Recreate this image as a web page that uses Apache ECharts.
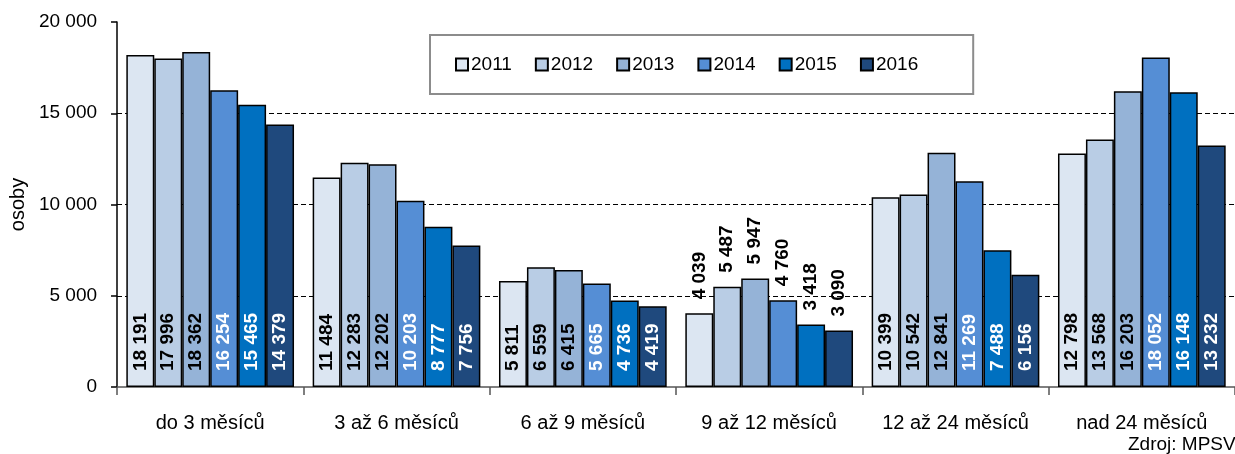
<!DOCTYPE html>
<html>
<head>
<meta charset="utf-8">
<script src="https://cdn.jsdelivr.net/npm/echarts@6/dist/echarts.min.js"></script>
<style>
  html, body { margin: 0; padding: 0; background: #fff; }
  #chart { width: 1235px; height: 454px; }
</style>
</head>
<body>
<div id="chart"></div>
<script>
const categories = ['do 3 měsíců', '3 až 6 měsíců', '6 až 9 měsíců', '9 až 12 měsíců', '12 až 24 měsíců', 'nad 24 měsíců']
const years = ['2011', '2012', '2013', '2014', '2015', '2016']
const colors = ['#dce6f2', '#b9cde5', '#95b3d7', '#558ed5', '#0070c0', '#1f497d']
const labelColors = ['#000', '#000', '#000', '#fff', '#fff', '#fff']

const v2011 = [18191, 11484, 5811, 4039, 10399, 12798]
const v2012 = [17996, 12283, 6559, 5487, 10542, 13568]
const v2013 = [18362, 12202, 6415, 5947, 12841, 16203]
const v2014 = [16254, 10203, 5665, 4760, 11269, 18052]
const v2015 = [15465, 8777, 4736, 3418, 7488, 16148]
const v2016 = [14379, 7756, 4419, 3090, 6156, 13232]
const values = [v2011, v2012, v2013, v2014, v2015, v2016]

// group whose labels sit above the bars
const outsideGroup = 3

const fontFamily = '"Liberation Sans", Arial, sans-serif'

function fmt(v) {
  return String(v).replace(/\B(?=(\d{3})+(?!\d))/g, ' ')
}

const series = years.map((name, s) => ({
  name,
  type: 'bar',
  barGap: '0%',
  barCategoryGap: '10%',
  animation: false,
  itemStyle: { color: colors[s], borderColor: '#000', borderWidth: 1.5 },
  label: {
    show: true,
    position: 'insideBottom',
    rotate: 90,
    align: 'left',
    verticalAlign: 'middle',
    distance: 16,
    color: labelColors[s],
    fontSize: 19,
    fontWeight: 'bold',
    fontFamily,
    formatter: p => fmt(p.value)
  },
  data: values[s].map((v, i) => i === outsideGroup ? {
    value: v,
    label: { position: 'top', distance: 14, color: '#000' }
  } : v)
}))

const chart = echarts.init(document.getElementById('chart'))
chart.setOption({
  backgroundColor: '#fff',
  textStyle: { fontFamily },
  grid: { left: 116, top: 22, width: 1128, bottom: 67 },
  legend: {
    data: years,
    left: 430,
    top: 35,
    itemWidth: 12,
    itemHeight: 12,
    itemGap: 23,
    icon: 'rect',
    padding: [20, 55, 20, 25],
    backgroundColor: '#fff',
    borderColor: '#8c8c8c',
    borderWidth: 2,
    textStyle: { fontSize: 19, color: '#000', fontFamily, padding: [0, 0, 0, -2] }
  },
  xAxis: {
    type: 'category',
    data: categories,
    axisLine: { lineStyle: { color: '#555', width: 1.5 } },
    axisTick: { show: true, interval: 0, length: 8, lineStyle: { color: '#555', width: 1.5 } },
    axisLabel: { interval: 0, color: '#000', fontSize: 20, margin: 26, fontFamily }
  },
  yAxis: {
    type: 'value',
    min: 0,
    max: 20000,
    interval: 5000,
    name: 'osoby',
    nameLocation: 'middle',
    nameGap: 83,
    nameTextStyle: { fontSize: 20, color: '#000', fontFamily },
    axisLine: { show: true, lineStyle: { color: '#000', width: 1.5 } },
    axisTick: { show: true, length: 6, lineStyle: { color: '#000', width: 1.5 } },
    axisLabel: { color: '#000', fontSize: 19, margin: 20, fontFamily, formatter: v => fmt(v) },
    splitLine: {
      show: true,
      showMinLine: false,
      showMaxLine: false,
      lineStyle: { color: '#000', type: [5, 3], width: 1.2 }
    }
  },
  graphic: [{
    type: 'text',
    left: 1128,
    top: 435,
    style: { text: 'Zdroj: MPSV', fontSize: 19, fill: '#000', fontFamily }
  }],
  series
})
</script>
</body>
</html>
